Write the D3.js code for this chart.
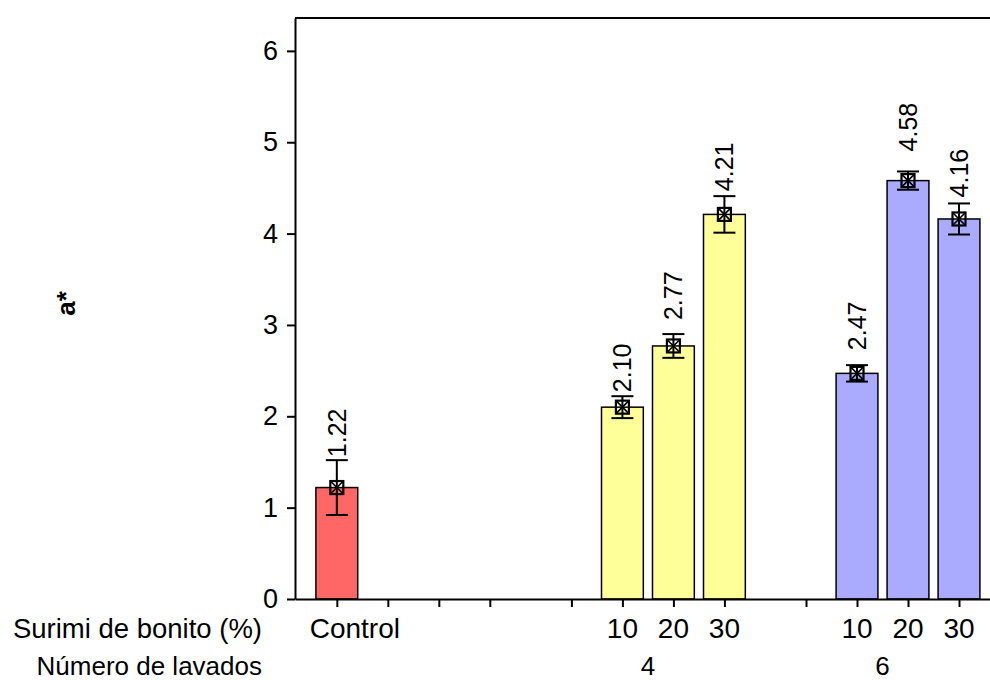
<!DOCTYPE html>
<html>
<head>
<meta charset="utf-8">
<script src="https://cdn.jsdelivr.net/npm/d3@7"></script>
<style>
  html, body { margin: 0; padding: 0; background: #fff; }
  svg { display: block; font-family: Arial, 'Liberation Sans', sans-serif; }
</style>
</head>
<body>
<div id="chart"></div>
<script>
// bar categories (x slots), group rows and values
const categories = ['Control', '10', '20', '30', '10', '20', '30'];
const slots = [0, 5.6, 6.6, 7.6, 10.2, 11.2, 12.2];
const washGroups = ['4', '6'];
const washSlots = [6.1, 10.7];
const extraTicks = [1, 2, 3, 4.6, 9.2];
const means = [1.22, 2.10, 2.77, 4.21, 2.47, 4.58, 4.16];
const errors = [0.30, 0.12, 0.13, 0.20, 0.09, 0.10, 0.17];
const barColors = ['#ff6666', '#ffff99', '#ffff99', '#ffff99', '#aaaaff', '#aaaaff', '#aaaaff'];
const yTicks = [0, 1, 2, 3, 4, 5, 6];

const width = 990, height = 680;
const plot = { left: 295, right: 1010, top: 18, bottom: 599 };

const svg = d3.select('#chart').append('svg')
  .attr('width', width)
  .attr('height', height);

const x = d3.scaleLinear().domain([-0.82, 13.2]).range([plot.left, plot.right]);
const y = d3.scaleLinear().domain([0, 6.36]).range([plot.bottom, plot.top]);
const barW = x(0.82) - x(0);

const data = means.map((m, i) => ({
  cat: categories[i], pos: slots[i], mean: m, err: errors[i], color: barColors[i]
}));

// bars
svg.append('g').selectAll('rect')
  .data(data)
  .join('rect')
  .attr('x', d => x(d.pos) - barW / 2)
  .attr('y', d => y(d.mean))
  .attr('width', barW)
  .attr('height', d => y(0) - y(d.mean))
  .attr('fill', d => d.color)
  .attr('stroke', '#000')
  .attr('stroke-width', 1.5);

// error bars
const eb = svg.append('g').attr('stroke', '#000').attr('stroke-width', 2);
const capW = 11;
data.forEach(d => {
  const cx = x(d.pos);
  eb.append('line').attr('x1', cx).attr('x2', cx)
    .attr('y1', y(d.mean + d.err)).attr('y2', y(d.mean - d.err));
  [d.mean + d.err, d.mean - d.err].forEach(v => {
    eb.append('line').attr('x1', cx - capW).attr('x2', cx + capW)
      .attr('y1', y(v)).attr('y2', y(v));
  });
});

// markers: square with a cross
const ms = 6.5;
const mk = svg.append('g').attr('stroke', '#000').attr('stroke-width', 2.2).attr('fill', 'none');
data.forEach(d => {
  const cx = x(d.pos), cy = y(d.mean);
  mk.append('rect').attr('x', cx - ms).attr('y', cy - ms)
    .attr('width', ms * 2).attr('height', ms * 2);
  mk.append('path')
    .attr('stroke-width', 1.6)
    .attr('d', `M${cx - ms},${cy - ms}L${cx + ms},${cy + ms}M${cx + ms},${cy - ms}L${cx - ms},${cy + ms}`);
});

// value labels (the original places some of them a bit higher than others)
const labelLift = [3, 4, 14, 5, 15, 20, 6];
svg.append('g').selectAll('text')
  .data(data)
  .join('text')
  .attr('transform', (d, i) => `translate(${x(d.pos)},${y(d.mean + d.err) - labelLift[i]}) rotate(-90)`)
  .attr('dy', '0.36em')
  .attr('font-size', 25)
  .attr('fill', '#000')
  .text(d => d.mean.toFixed(2));

// axes
const yAxis = svg.append('g')
  .attr('transform', `translate(${plot.left},0)`)
  .call(d3.axisLeft(y).tickValues(yTicks).tickFormat(d3.format('d'))
    .tickSize(8).tickSizeOuter(0).tickPadding(9));
yAxis.selectAll('text').attr('font-size', 27).attr('fill', '#000').attr('font-family', null);

const xAxis = svg.append('g')
  .attr('transform', `translate(0,${plot.bottom})`)
  .call(d3.axisBottom(x).tickValues(slots.concat(extraTicks)).tickSize(8).tickSizeOuter(0).tickFormat(''));

[yAxis, xAxis].forEach(a => {
  a.select('.domain').attr('stroke', '#000').attr('stroke-width', 2);
  a.selectAll('.tick line').attr('stroke', '#000').attr('stroke-width', 2);
});

// top frame line
svg.append('line')
  .attr('x1', plot.left).attr('x2', plot.right)
  .attr('y1', plot.top).attr('y2', plot.top)
  .attr('stroke', '#000').attr('stroke-width', 2);

// y title
svg.append('text')
  .attr('transform', `translate(75,${(plot.top + plot.bottom) / 2 - 5}) rotate(-90)`)
  .attr('text-anchor', 'middle')
  .attr('font-size', 26)
  .attr('font-weight', 'bold')
  .text('a*');

// category rows
svg.append('text').attr('x', 262).attr('y', 638).attr('text-anchor', 'end')
  .attr('font-size', 27.5).text('Surimi de bonito (%)');
svg.append('text').attr('x', 262).attr('y', 675).attr('text-anchor', 'end')
  .attr('font-size', 26).text('Número de lavados');

svg.append('g').selectAll('text')
  .data(data)
  .join('text')
  .attr('x', d => x(d.pos) + (d.cat === 'Control' ? 18 : 0))
  .attr('y', 638)
  .attr('text-anchor', 'middle')
  .attr('font-size', 28)
  .text(d => d.cat);

svg.append('g').selectAll('text')
  .data(washGroups)
  .join('text')
  .attr('x', (d, i) => x(washSlots[i]))
  .attr('y', 675)
  .attr('text-anchor', 'middle')
  .attr('font-size', 26)
  .text(d => d);
</script>
</body>
</html>
